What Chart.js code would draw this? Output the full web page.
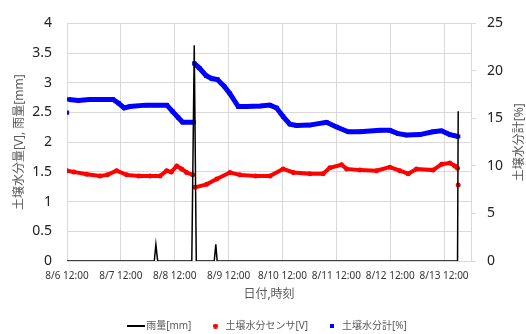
<!DOCTYPE html>
<html>
<head>
<meta charset="utf-8">
<script src="https://cdn.jsdelivr.net/npm/chart.js@4/dist/chart.umd.min.js"></script>
<style>
  body { margin: 0; background: #fff; }
  #wrap { width: 526px; height: 334px; }
</style>
</head>
<body>
<div id="wrap"><canvas id="soil-chart"></canvas></div>
<script>
// hours since 8/6 12:00
const tickLabels = ['8/6 12:00', '8/7 12:00', '8/8 12:00', '8/9 12:00', '8/10 12:00', '8/11 12:00', '8/12 12:00', '8/13 12:00'];

const rainHours = [0, 38.9, 39.6, 40.4, 55.6, 56.7, 57.6, 65.6, 66.3, 66.9, 174.0, 174.3];
const rainMm    = [0, 0, 0.28, 0, 0, 3.63, 0, 0, 0.28, 0, 0, 2.52];

const sensorHours = [0, 3, 8.8, 14.7, 18, 22.1, 26.6, 32, 37, 41.4, 44.4, 46.5, 48.9, 51.1, 53.3, 56,
    56.4, 57, 62.2, 66.7, 72.6, 77, 84, 90.4, 96.3, 100.8, 108.2, 114.1, 117.1, 122.3, 124.6, 130.5,
    137.9, 143.8, 148.3, 152, 155.7, 163.1, 166.9, 170.6, 172.8, 174.0, 174.1, 174.3];
const sensorV = [1.52, 1.50, 1.46, 1.43, 1.45, 1.52, 1.45, 1.43, 1.43, 1.43, 1.52, 1.50, 1.60, 1.55, 1.49, 1.45,
    null, 1.24, 1.29, 1.38, 1.49, 1.45, 1.43, 1.43, 1.55, 1.49, 1.47, 1.47, 1.57, 1.62, 1.55, 1.53,
    1.52, 1.58, 1.52, 1.47, 1.55, 1.53, 1.63, 1.65, 1.60, 1.56, null, 1.28];

const meterHours = [0, 0.4, 0.8, 5, 10, 15, 20.5, 23, 25.5, 28, 35, 40, 44.5, 47, 49.5, 51.5, 56.4,
    56.5, 56.7, 59, 62, 64.5, 67, 70, 72.6, 76.3, 80, 86, 90.4, 93.4, 96.3, 99.3, 102.3, 108, 115.6,
    120.1, 125.3, 130.5, 139.4, 143.8, 147.5, 151.3, 157.2, 163.1, 166.8, 170.6, 174.3];
const meterPct = [15.6, null, 17.0, 16.9, 17.0, 17.0, 17.0, 16.6, 16.1, 16.25, 16.4, 16.4, 16.4, 15.75, 15.1, 14.6, 14.6,
    null, 20.8, 20.3, 19.5, 19.2, 19.1, 18.4, 17.6, 16.25, 16.25, 16.3, 16.4, 16.1, 15.2, 14.4, 14.25, 14.3, 14.6,
    14.1, 13.6, 13.6, 13.75, 13.75, 13.4, 13.25, 13.3, 13.6, 13.7, 13.3, 13.1];

function pairs(xs, ys){
    return xs.map((x, i) => ({x: x, y: ys[i]}))
}

// small legend symbols
function symbol(w, h, color, round){
    const c = document.createElement('canvas');
    c.width = w;
    c.height = h;
    const g = c.getContext('2d');
    g.fillStyle = color;
    if(round){
        g.beginPath();
        g.arc(w / 2, h / 2, w / 2, 0, Math.PI * 2);
        g.fill();
    } else {
        g.fillRect(0, 0, w, h);
    }
    return c;
}
const legendSymbols = [symbol(18, 2, '#000000', false), symbol(5, 5, '#ff0000', true), symbol(4, 4, '#0000ff', false)];

const fontFamily = '"Noto Sans", "Noto Sans CJK JP", sans-serif';
const grey = '#595959';
const gridColor = '#d9d9d9';

const rightTitle = {
    id: 'rightTitle',
    afterDraw(chart){
        const ctx = chart.ctx;
        const area = chart.chartArea;
        ctx.save();
        ctx.translate(520, (area.top + area.bottom) / 2);
        ctx.rotate(-Math.PI / 2);
        ctx.font = '12px ' + fontFamily;
        ctx.fillStyle = grey;
        ctx.textAlign = 'center';
        ctx.textBaseline = 'middle';
        ctx.fillText('土壌水分計[%]', 0, 0);
        ctx.restore();
    }
};

new Chart(document.querySelector('#soil-chart').getContext('2d'), {
    type: 'line',
    data: {
        datasets: [{
            label: '雨量[mm]',
            data: pairs(rainHours, rainMm),
            yAxisID: 'y',
            borderColor: '#000000',
            backgroundColor: '#000000',
            borderWidth: 1.5,
            pointRadius: 0,
            order: 0
        }, {
            label: '土壌水分センサ[V]',
            data: pairs(sensorHours, sensorV),
            yAxisID: 'y',
            borderColor: '#ff0000',
            backgroundColor: '#ff0000',
            borderWidth: 4,
            pointRadius: 2.5,
            pointBorderWidth: 0,
            pointStyle: 'circle',
            spanGaps: false,
            order: 1
        }, {
            label: '土壌水分計[%]',
            data: pairs(meterHours, meterPct),
            yAxisID: 'y2',
            borderColor: '#0000ff',
            backgroundColor: '#0000ff',
            borderWidth: 5,
            pointRadius: 3,
            pointBorderWidth: 0,
            pointStyle: 'rect',
            spanGaps: false,
            order: 2
        }]
    },
    options: {
        responsive: true,
        maintainAspectRatio: false,
        animation: false,
        layout: { padding: { top: 21, left: 0, right: 0, bottom: -7 } },
        plugins: {
            tooltip: { enabled: false },
            legend: {
                position: 'bottom',
                fullSize: false,
                labels: {
                    usePointStyle: true,
                    padding: 19,
                    color: grey,
                    font: { family: fontFamily, size: 10 },
                    sort: (a, b) => a.datasetIndex - b.datasetIndex,
                    generateLabels: chart => {
                        const items = Chart.defaults.plugins.legend.labels.generateLabels(chart);
                        items.forEach(item => {
                            item.pointStyle = legendSymbols[item.datasetIndex];
                        });
                        return items;
                    }
                }
            }
        },
        scales: {
            x: {
                type: 'linear',
                min: 0,
                max: 180,
                afterBuildTicks: scale => {
                    scale.ticks = tickLabels.map((t, i) => ({value: i * 24}));
                },
                afterFit: scale => { scale.height = 41; },
                ticks: {
                    autoSkip: false,
                    maxRotation: 0,
                    padding: 9,
                    color: '#333333',
                    font: { family: fontFamily, size: 10 },
                    callback: (value, index) => tickLabels[index]
                },
                grid: { color: gridColor, drawTicks: false },
                border: { display: false },
                title: {
                    display: true,
                    text: '日付,時刻',
                    color: grey,
                    padding: { top: 0, bottom: 0 },
                    font: { family: fontFamily, size: 12 }
                }
            },
            y: {
                position: 'left',
                min: 0,
                max: 4,
                ticks: {
                    stepSize: 0.5,
                    padding: 15,
                    color: '#222222',
                    font: { family: fontFamily, size: 14 },
                    callback: value => String(value)
                },
                afterFit: scale => { scale.width = 67; },
                grid: { color: gridColor, drawTicks: false },
                border: { display: false },
                title: {
                    display: true,
                    text: '土壌水分量[V], 雨量[mm]',
                    color: grey,
                    padding: { top: 12, bottom: 0 },
                    font: { family: fontFamily, size: 12 }
                }
            },
            y2: {
                position: 'right',
                min: 0,
                max: 25,
                ticks: {
                    stepSize: 5,
                    padding: 11,
                    color: '#222222',
                    font: { family: fontFamily, size: 14 },
                    callback: value => String(value)
                },
                afterFit: scale => { scale.width = 55; },
                grid: { drawOnChartArea: false, color: gridColor, tickLength: 5 },
                border: { display: true, color: gridColor }
            }
        }
    },
    plugins: [rightTitle]
});
</script>
</body>
</html>
